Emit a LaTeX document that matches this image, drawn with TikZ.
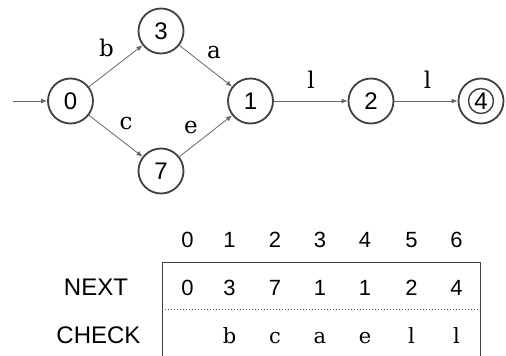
\documentclass[tikz,border=0pt]{standalone}
\usepackage{fontspec}
\newfontfamily\sansf{Liberation Sans}
\newfontfamily\seriff{DejaVu Serif}
\usetikzlibrary{arrows.meta}
\begin{document}
\begin{tikzpicture}[x=1pt,y=-1pt,
  state/.style={circle,draw=black!75,line width=1.8pt,minimum size=45pt,inner sep=0pt,font=\sansf\fontsize{24}{24}\selectfont},
  inner/.style={circle,draw=black!75,line width=1.4pt,minimum size=25pt,inner sep=0pt,font=\sansf\fontsize{24}{24}\selectfont},
  trans/.style={-{Latex[length=6pt,width=5pt]},draw=black!60,line width=0.8pt},
  lbl/.style={inner sep=0pt,font=\seriff\fontsize{23}{23}\selectfont},
  tdig/.style={anchor=base,inner sep=0pt,font=\sansf\fontsize{22}{22}\selectfont},
  tlet/.style={anchor=base,inner sep=0pt,font=\seriff\fontsize{21}{21}\selectfont},
  rowname/.style={anchor=base,inner sep=0pt,font=\sansf\fontsize{24}{24}\selectfont}]
\useasboundingbox (0,0) rectangle (506,356);
% states
\node[state] (s0) at (70.5,101) {0};
\node[state] (s3) at (161,31) {3};
\node[state] (s7) at (161,171) {7};
\node[state] (s1) at (250.5,101) {1};
\node[state] (s2) at (371,101) {2};
\node[state] (s4) at (481,101) {};
\node[inner] (s4i) at (s4) {4};
% transitions
\coordinate (start) at (13,101);
\draw[trans] (start) -- (s0);
\draw[trans] (s0) -- (s3);
\draw[trans] (s0) -- (s7);
\draw[trans] (s3) -- (s1);
\draw[trans] (s7) -- (s1);
\draw[trans] (s1) -- (s2);
\draw[trans] (s2) -- (s4);
% labels
\node[lbl] (lb) at (106.5,48) {b};
\node[lbl] (la) at (214,52.5) {a};
\node[lbl] (lc) at (126,124) {c};
\node[lbl] (le) at (191,128) {e};
\node[lbl] (ll1) at (311,80) {l};
\node[lbl] (ll2) at (427.5,80) {l};
% table
\coordinate (tl) at (162,262);
\coordinate (tr) at (480,262);
\coordinate (bl) at (162,360);
\coordinate (br) at (480,360);
\draw[draw=black!75,line width=0.9pt] (bl) -- (tl) -- (tr) -- (br);
\coordinate (dl) at (162,309);
\coordinate (dr) at (480,309);
\draw[draw=black!65,line width=1pt,dotted] (dl) -- (dr);
\node[rowname] (next) at (96,295) {NEXT};
\node[rowname] (check) at (98.5,343) {CHECK};
\foreach \x/\h/\n/\c [count=\i from 0] in {187.5/0/0/,229.5/1/3/b,275/2/7/c,320/3/1/a,365/4/1/e,411.5/5/2/l,456.5/6/4/l}{
  \node[tdig] (h\i) at (\x,247) {\h};
  \node[tdig] (n\i) at (\x,295) {\n};
  \node[tlet] (c\i) at (\x,343) {\c};
}
\end{tikzpicture}
\end{document}
